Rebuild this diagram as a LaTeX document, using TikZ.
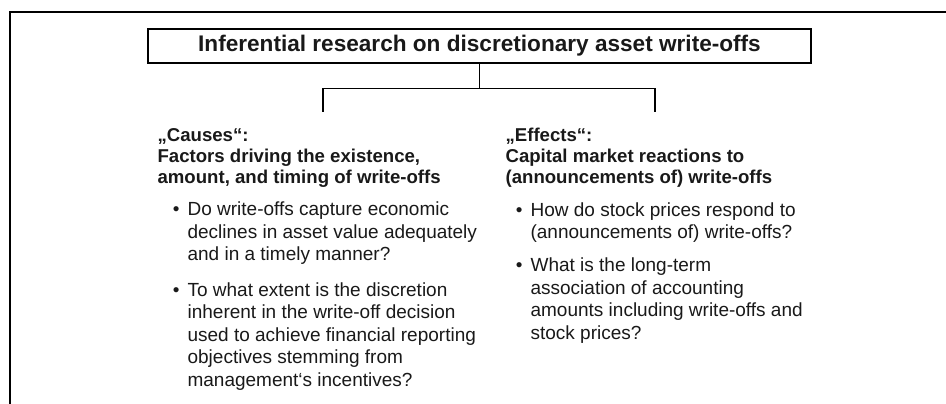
\documentclass[tikz,border=0pt]{standalone}
\usepackage{fontspec}
\setmainfont{Liberation Sans}
\usetikzlibrary{positioning}

\begin{document}
\begin{tikzpicture}[
                x=1pt, y=-1pt,
                line width=1.2pt,
                every node/.style={
                    inner sep=0,
                    text=black!90
                },
                titlebox/.style={
                    draw,
                    minimum width=663pt,
                    minimum height=34pt,
                    font=\fontsize{22.6}{26}\selectfont\bfseries
                },
                heading/.style={
                    align=left,
                    anchor=north west,
                    font=\fontsize{18.6}{21}\selectfont\bfseries
                },
                item/.style={
                    align=left,
                    font=\fontsize{19}{22.5}\selectfont
                }
            ]
            \useasboundingbox (0,0) rectangle (946,404);
            % 外框 (只有上边和左边)
            \draw (10,404) -- (10,12) -- (946,12);
            \node[titlebox] (title) at (479.5,46) {Inferential research on discretionary asset write-offs};
            \draw (title.south) -- ++(0,25) coordinate (fork);
            \coordinate (lc) at (323,112);
            \coordinate (rc) at (655,112);
            \draw (lc) |- (fork) -| (rc);
            % 左: causes
            \node[heading] (causes) at (157,127.5) {„Causes“:\\Factors driving the existence,\\amount, and timing of write-offs};
            \node[item, below right=14pt and 30pt of causes.south west] (c1) {\llap{•\hspace{8pt}}Do write-offs capture economic\\declines in asset value adequately\\and in a timely manner?};
            \node[item, below right=16.5pt and 0pt of c1.south west] (c2) {\llap{•\hspace{8pt}}To what extent is the discretion\\inherent in the write-off decision\\used to achieve financial reporting\\objectives stemming from\\management‘s incentives?};
            % 右: effects
            \node[heading] (effects) at (505,127.5) {„Effects“:\\Capital market reactions to\\(announcements of) write-offs};
            \node[item, below right=14pt and 25pt of effects.south west] (e1) {\llap{•\hspace{8pt}}How do stock prices respond to\\(announcements of) write-offs?};
            \node[item, below right=14pt and 0pt of e1.south west] (e2) {\llap{•\hspace{8pt}}What is the long-term\\association of accounting\\amounts including write-offs and\\stock prices?};
\end{tikzpicture}
\end{document}
